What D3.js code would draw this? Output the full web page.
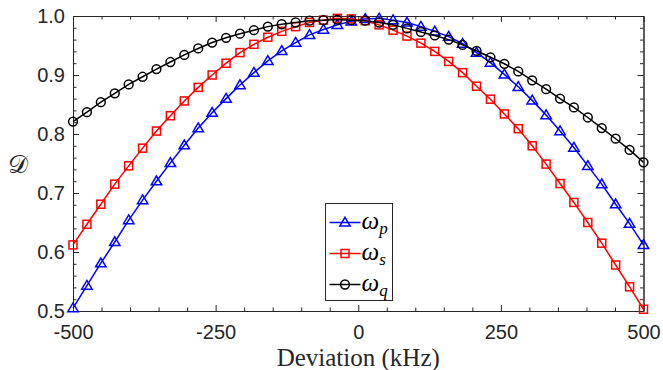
<!DOCTYPE html>
<html>
<head>
<meta charset="utf-8">
<script src="https://cdn.jsdelivr.net/npm/d3@7"></script>
<style>
body { margin: 0; background: #fff; }
.tick text { font-family: "Liberation Sans", Arial, sans-serif; font-size: 20px; fill: #262626; }
.tick line { stroke: #262626; }
.domain { stroke: #262626; }
</style>
</head>
<body>
<script>

// detuning points (kHz), 42 samples
var deviation = [-500, -475.6, -451.2, -426.8, -402.4, -378.0, -353.7, -329.3, -304.9, -280.5,
                 -256.1, -231.7, -207.3, -182.9, -158.5, -134.1, -109.8, -85.4, -61.0, -36.6,
                 -12.2, 12.2, 36.6, 61.0, 85.4, 109.8, 134.1, 158.5, 182.9, 207.3,
                 231.7, 256.1, 280.5, 304.9, 329.3, 353.7, 378.0, 402.4, 426.8, 451.2,
                 475.6, 500];

var omegaP = [0.505, 0.543, 0.581, 0.617, 0.654, 0.688, 0.720, 0.751, 0.781, 0.810,
              0.836, 0.860, 0.883, 0.904, 0.924, 0.941, 0.955, 0.968, 0.977, 0.985,
              0.991, 0.995, 0.996, 0.993, 0.989, 0.982, 0.974, 0.965, 0.953, 0.938,
              0.921, 0.901, 0.880, 0.857, 0.832, 0.805, 0.777, 0.746, 0.715, 0.681,
              0.648, 0.612];

var omegaS = [0.612, 0.647, 0.681, 0.715, 0.746, 0.776, 0.805, 0.831, 0.856, 0.879,
              0.900, 0.920, 0.938, 0.952, 0.964, 0.974, 0.982, 0.989, 0.993, 0.996,
              0.995, 0.992, 0.985, 0.976, 0.966, 0.954, 0.940, 0.923, 0.904, 0.881,
              0.859, 0.834, 0.809, 0.780, 0.749, 0.716, 0.684, 0.650, 0.615, 0.578,
              0.541, 0.503];

var omegaQ = [0.821, 0.837, 0.854, 0.869, 0.884, 0.897, 0.910, 0.922, 0.934, 0.945,
              0.955, 0.963, 0.970, 0.976, 0.982, 0.986, 0.989, 0.992, 0.993, 0.994,
              0.993, 0.992, 0.989, 0.985, 0.979, 0.973, 0.967, 0.960, 0.951, 0.941,
              0.930, 0.919, 0.906, 0.891, 0.876, 0.860, 0.845, 0.828, 0.810, 0.792,
              0.773, 0.752];

var xTicks = [-500, -250, 0, 250, 500];
var xMinor = [-450, -400, -350, -300, -200, -150, -100, -50, 50, 100, 150, 200, 300, 350, 400, 450];
var yTicks = [0.5, 0.6, 0.7, 0.8, 0.9, 1.0];
var yMinor = [0.52, 0.54, 0.56, 0.58, 0.62, 0.64, 0.66, 0.68, 0.72, 0.74, 0.76, 0.78,
              0.82, 0.84, 0.86, 0.88, 0.92, 0.94, 0.96, 0.98];

var series = [
  {name: "p", values: omegaP, color: "#0000ff", marker: "triangle"},
  {name: "s", values: omegaS, color: "#ff0000", marker: "square"},
  {name: "q", values: omegaQ, color: "#000000", marker: "circle"}
];

var padLeft = 73, padTop = 16, w = 570.5, h = 295;

var svg = d3.select("body").append("svg").attr("width", 663).attr("height", 370);

var x = d3.scaleLinear().domain([-500, 500]).range([0, w]);
var y = d3.scaleLinear().domain([0.5, 1.0]).range([h, 0]);

var plot = svg.append("g").attr("transform", "translate(" + padLeft + "," + padTop + ")");

// axes, ticks pointing inward on all four sides
plot.append("g").attr("transform", "translate(0," + h + ")")
    .call(d3.axisBottom(x).tickValues(xTicks).tickSizeInner(-6).tickSizeOuter(0).tickPadding(14)
      .tickFormat(function(d) { return String(d); }));
plot.append("g").attr("transform", "translate(0," + h + ")")
    .call(d3.axisBottom(x).tickValues(xMinor).tickSizeInner(-3.5).tickSizeOuter(0).tickFormat(""));
plot.append("g")
    .call(d3.axisTop(x).tickValues(xTicks).tickSizeInner(-6).tickSizeOuter(0).tickFormat(""));
plot.append("g")
    .call(d3.axisTop(x).tickValues(xMinor).tickSizeInner(-3.5).tickSizeOuter(0).tickFormat(""));

plot.append("g")
    .call(d3.axisLeft(y).tickValues(yTicks).tickSizeInner(-6).tickSizeOuter(0).tickPadding(8)
      .tickFormat(d3.format(".1f")));
plot.append("g")
    .call(d3.axisLeft(y).tickValues(yMinor).tickSizeInner(-3.5).tickSizeOuter(0).tickFormat(""));
plot.append("g").attr("transform", "translate(" + w + ",0)")
    .call(d3.axisRight(y).tickValues(yTicks).tickSizeInner(-6).tickSizeOuter(0).tickFormat(""));
plot.append("g").attr("transform", "translate(" + w + ",0)")
    .call(d3.axisRight(y).tickValues(yMinor).tickSizeInner(-3.5).tickSizeOuter(0).tickFormat(""));

plot.selectAll(".domain").attr("stroke-width", 1);
plot.selectAll(".tick line").attr("stroke-width", 1);

// markers
function drawMarker(g, type, color) {
  if (type == "triangle") {
    g.append("path").attr("d", "M0,-5.2L5.2,3.6L-5.2,3.6Z");
  } else if (type == "square") {
    g.append("rect").attr("x", -4).attr("y", -4).attr("width", 8).attr("height", 8);
  } else {
    g.append("circle").attr("r", 4.4);
  }
  g.selectAll("path,rect,circle").attr("fill", "none").attr("stroke", color).attr("stroke-width", 1.5);
}

var line = d3.line()
    .x(function(d, i) { return x(deviation[i]); })
    .y(function(d) { return y(d); });

series.forEach(function(s) {
  var g = plot.append("g");
  g.append("path")
      .attr("d", line(s.values))
      .attr("fill", "none")
      .attr("stroke", s.color)
      .attr("stroke-width", 1.5);
  g.selectAll(".m").data(s.values).enter().append("g")
      .attr("transform", function(d, i) { return "translate(" + x(deviation[i]) + "," + y(d) + ")"; })
      .each(function() { drawMarker(d3.select(this), s.marker, s.color); });
});

// axis labels
svg.append("text")
    .attr("x", padLeft + w / 2)
    .attr("y", 366)
    .attr("text-anchor", "middle")
    .style("font-family", "'Liberation Serif', serif")
    .style("font-size", "25px")
    .attr("fill", "#262626")
    .text("Deviation (kHz)");

svg.append("text")
    .attr("x", 18)
    .attr("y", 173)
    .attr("text-anchor", "middle")
    .style("font-family", "'DejaVu Serif', serif")
    .style("font-size", "25px")
    .attr("fill", "#262626")
    .text("\uD835\uDC9F");

// legend
var legend = svg.append("g").attr("transform", "translate(325.5,203.5)");
legend.append("rect")
    .attr("width", 67)
    .attr("height", 97)
    .attr("fill", "#fff")
    .attr("stroke", "#262626")
    .attr("stroke-width", 1);

series.forEach(function(s, i) {
  var row = legend.append("g").attr("transform", "translate(0," + (19 + i * 31) + ")");
  row.append("line")
      .attr("x1", 4).attr("x2", 35)
      .attr("stroke", s.color).attr("stroke-width", 1.5);
  drawMarker(row.append("g").attr("transform", "translate(19.5,0)"), s.marker, s.color);
  var t = row.append("text")
      .attr("x", 36)
      .attr("y", 6)
      .style("font-family", "'Liberation Serif', serif")
      .style("font-style", "italic")
      .style("font-size", "25px")
      .attr("fill", "#000");
  t.append("tspan").text("\u03C9");
  t.append("tspan").attr("dy", 5).style("font-size", "17px").text(s.name);
});

</script>
</body>
</html>
